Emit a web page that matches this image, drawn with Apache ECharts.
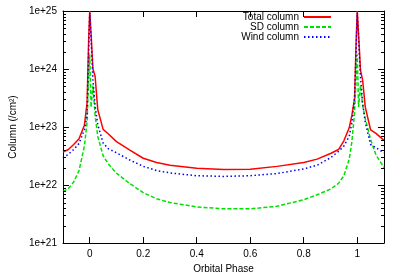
<!DOCTYPE html>
<html>
<head>
<meta charset="utf-8">
<script src="https://cdn.jsdelivr.net/npm/echarts@6/dist/echarts.min.js"></script>
<style>html,body{margin:0;padding:0;background:#fff}#c{width:400px;height:279px}</style>
</head>
<body>
<div id="c"></div>
<script>
const phase = [-0.1, -0.08, -0.06, -0.04, -0.02, -0.01, -0.004, 0, 0.005, 0.012, 0.02, 0.03, 0.05, 0.07, 0.1, 0.15, 0.2, 0.25, 0.3, 0.4, 0.5, 0.6, 0.7, 0.8, 0.85, 0.9, 0.93, 0.95, 0.97, 0.98, 0.99, 0.996, 1.0, 1.005, 1.012, 1.02, 1.03, 1.05, 1.07, 1.1];
const totalColumn = [3.7e22, 4.1e22, 5.0e22, 6.3e22, 1.07e23, 2.6e23, 3.2e24, 1.0e25, 4.0e24, 1.0e24, 7.5e23, 2.0e23, 9.1e22, 7.6e22, 5.6e22, 4.0e22, 2.9e22, 2.45e22, 2.2e22, 1.95e22, 1.86e22, 1.87e22, 2.1e22, 2.45e22, 2.8e22, 3.5e22, 4.1e22, 5.8e22, 9.7e22, 1.6e23, 3.1e23, 3.2e24, 1.0e25, 4.0e24, 9.6e23, 6.5e23, 2.2e23, 8.9e22, 7.8e22, 5.9e22];
const sdColumn = [7.7e21, 8.7e21, 1.13e22, 1.77e22, 4.7e22, 1.2e23, 7.0e23, 1.8e24, 2.2e23, 5.2e23, 1.6e23, 6.9e22, 3.2e22, 2.3e22, 1.6e22, 1.06e22, 7.4e21, 5.8e21, 5.0e21, 4.2e21, 3.9e21, 3.9e21, 4.3e21, 5.6e21, 6.8e21, 8.5e21, 1.07e22, 1.45e22, 2.8e22, 5.6e22, 1.8e23, 7.0e23, 1.8e24, 2.2e23, 5.2e23, 2.4e23, 1.4e23, 6.1e22, 3.3e22, 2.0e22];
const windColumn = [2.95e22, 3.4e22, 4.1e22, 5.2e22, 9.0e22, 1.6e23, 2.2e24, 9.3e24, 3.3e24, 6.5e23, 2.3e23, 1.1e23, 5.3e22, 4.2e22, 3.6e22, 2.7e22, 2.1e22, 1.78e22, 1.62e22, 1.45e22, 1.41e22, 1.45e22, 1.58e22, 1.9e22, 2.2e22, 2.95e22, 3.8e22, 4.7e22, 6.9e22, 1.2e23, 3.2e23, 2.2e24, 9.3e24, 3.3e24, 7.5e23, 2.6e23, 1.2e23, 5.0e22, 4.4e22, 3.6e22];
const seriesNames = ['Total column', 'SD column', 'Wind column'];
const xTicks = [0, 0.2, 0.4, 0.6, 0.8, 1];
const xRange = [-0.1, 1.1];
const yRange = [1e21, 1e25];
const minorMultipliers = [2, 3, 4, 5, 6, 7, 8, 9];

const FONT = 'Liberation Sans';
const minorValues = [];
for (let e = Math.round(Math.log10(yRange[0])); e < Math.round(Math.log10(yRange[1])); e++) {
  minorMultipliers.forEach(m => minorValues.push(m * Math.pow(10, e)));
}
const pairs = arr => phase.map((p, i) => [p, arr[i]]);

const chart = echarts.init(document.getElementById('c'), null, {renderer: 'canvas'});
const baseLine = {show: true, onZero: false, lineStyle: {color: '#000', width: 1}};
const tickStyle = {color: '#000', width: 1};
chart.setOption({
  animation: false,
  backgroundColor: '#fff',
  textStyle: {fontFamily: FONT},
  grid: {left: 61, right: 16, top: 11, bottom: 30, containLabel: false},
  legend: {
    orient: 'vertical', align: 'right', right: 63, top: 7,
    itemWidth: 27, itemHeight: 10, itemGap: 0,
    itemStyle: {opacity: 0},
    textStyle: {fontFamily: FONT, fontSize: 10, color: '#000'},
    data: seriesNames
  },
  xAxis: [{
    type: 'value', min: xRange[0], max: xRange[1], position: 'bottom',
    name: 'Orbital Phase', nameLocation: 'middle', nameGap: 18,
    nameTextStyle: {fontFamily: FONT, fontSize: 10, color: '#000'},
    axisLine: baseLine,
    axisTick: {show: true, inside: true, length: 6, customValues: xTicks, lineStyle: tickStyle},
    axisLabel: {customValues: xTicks, margin: 6, fontFamily: FONT, fontSize: 10, color: '#000'},
    splitLine: {show: false}
  }, {
    type: 'value', min: xRange[0], max: xRange[1], position: 'top',
    axisLine: baseLine,
    axisTick: {show: true, inside: true, length: 6, customValues: xTicks, lineStyle: tickStyle},
    axisLabel: {show: false}, splitLine: {show: false}
  }],
  yAxis: [{
    type: 'log', min: yRange[0], max: yRange[1], position: 'left',
    name: 'Column (/cm²)', nameLocation: 'middle', nameGap: 44,
    nameTextStyle: {fontFamily: FONT, fontSize: 10, color: '#000'},
    axisLine: baseLine,
    axisTick: {show: true, inside: true, length: 6, lineStyle: tickStyle},
    axisLabel: {margin: 6, fontFamily: FONT, fontSize: 10, color: '#000',
      formatter: v => '1e+' + Math.round(Math.log10(v))},
    splitLine: {show: false}
  }, {
    type: 'log', min: yRange[0], max: yRange[1], position: 'right',
    axisLine: baseLine,
    axisTick: {show: true, inside: true, length: 6, lineStyle: tickStyle},
    axisLabel: {show: false}, splitLine: {show: false}
  }],
  series: [{
    name: seriesNames[0], type: 'line', data: pairs(totalColumn),
    showSymbol: false, symbol: 'none', xAxisIndex: 0, yAxisIndex: 0,
    lineStyle: {color: '#ff0000', width: 1.5}, itemStyle: {color: '#ff0000'}
  }, {
    name: seriesNames[1], type: 'line', data: pairs(sdColumn),
    showSymbol: false, symbol: 'none', xAxisIndex: 0, yAxisIndex: 0,
    lineStyle: {color: '#00e000', width: 1.5, type: [4, 2]}, itemStyle: {color: '#00e000'}
  }, {
    name: seriesNames[2], type: 'line', data: pairs(windColumn),
    showSymbol: false, symbol: 'none', xAxisIndex: 0, yAxisIndex: 0,
    lineStyle: {color: '#0000ff', width: 1.5, type: [1.5, 2.5]}, itemStyle: {color: '#0000ff'}
  }, {
    name: 'minor ticks', type: 'custom', xAxisIndex: 0, yAxisIndex: 0,
    coordinateSystem: 'cartesian2d',
    data: minorValues.map(v => [xRange[0], v]), silent: true, clip: false, z: 10,
    renderItem: (params, api) => {
      const v = api.value(1);
      const l = api.coord([xRange[0], v]);
      const r = api.coord([xRange[1], v]);
      const y = Math.round(l[1]) + 0.5;
      return {type: 'group', children: [
        {type: 'line', shape: {x1: l[0], y1: y, x2: l[0] + 3, y2: y}, style: {stroke: '#000', lineWidth: 1}},
        {type: 'line', shape: {x1: r[0] - 3, y1: y, x2: r[0], y2: y}, style: {stroke: '#000', lineWidth: 1}}
      ]};
    }
  }]
});
</script>
</body>
</html>
